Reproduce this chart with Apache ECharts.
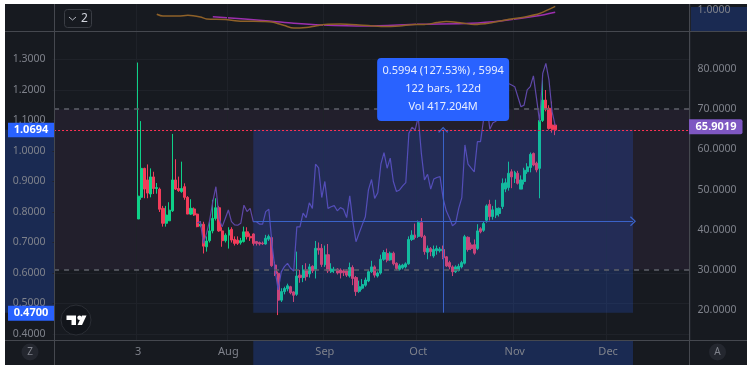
<!DOCTYPE html>
<html>
<head>
<meta charset="utf-8">
<style>
  html, body { margin: 0; padding: 0; background: #fff; }
  #main { width: 751px; height: 368px; }
</style>
<script src="https://cdn.jsdelivr.net/npm/echarts@6/dist/echarts.min.js"></script>
</head>
<body>
<div id="main"></div>
<script>
// date axis: one slot per day
var categories = [];
for (var t = Date.UTC(2022, 5, 6), n = 0; n < 205; n++, t += 86400000) {
  categories.push(new Date(t).toISOString().slice(5, 10));
}
var firstDay = categories[0], lastDay = categories[204];
var tickDays = ['07-03', '08-01', '09-01', '10-01', '11-01', '12-01'];
var tickLabels = ['3', 'Aug', 'Sep', 'Oct', 'Nov', 'Dec'];
var priceTicks = [0.4, 0.5, 0.6, 0.7, 0.8, 0.9, 1.0, 1.1, 1.2, 1.3];
var rsiTicks = [20, 30, 40, 50, 60, 70, 80];
var topTicks = [1];

// open, close, low, high from 07-03
var candleStart = 27;
var candles = [
  [.777,.852,.777,1.29],[.848,.943,.84,1.098],[.943,.875,.845,.945],[.905,.862,.845,.956],[.859,.915,.848,.943],
  [.915,.877,.859,.932],[.877,.880,.86,.895],[.875,.809,.80,.88],[.812,.763,.752,.82],[.763,.79,.752,.82],
  [.771,.806,.773,.832],[.804,.905,.80,1.056],[.905,.875,.872,.973],[.877,.87,.866,.916],[.867,.877,.863,.965],
  [.883,.848,.84,.894],[.848,.793,.793,.852],[.793,.812,.79,.842],[.81,.79,.787,.815],[.793,.752,.75,.795],
  [.754,.76,.75,.77],[.76,.688,.664,.768],[.686,.705,.67,.72],[.706,.738,.70,.77],[.738,.779,.73,.84],
  [.779,.814,.772,.845],[.814,.738,.735,.82],[.738,.706,.686,.75],[.706,.724,.70,.73],[.724,.741,.68,.75],
  [.743,.708,.70,.75],[.71,.697,.69,.72],[.708,.697,.692,.72],[.699,.706,.693,.715],[.703,.735,.70,.752],
  [.735,.719,.71,.75],[.72,.715,.705,.73],[.728,.697,.69,.73],[.703,.697,.69,.705],[.70,.695,.69,.703],
  [.698,.696,.692,.703],[.695,.714,.693,.725],[.711,.72,.705,.726],[.716,.624,.62,.72],[.626,.597,.59,.637],
  [.599,.511,.462,.605],[.511,.539,.505,.55],[.539,.549,.53,.555],[.548,.558,.54,.565],[.555,.535,.53,.558],
  [.538,.527,.505,.54],[.53,.59,.525,.67],[.593,.585,.568,.61],[.585,.61,.57,.626],[.61,.588,.575,.632],
  [.597,.62,.585,.63],[.622,.607,.60,.625],[.61,.681,.582,.705],[.681,.675,.66,.70],[.681,.628,.62,.695],
  [.627,.66,.62,.69],[.66,.607,.60,.695],[.604,.613,.60,.632],[.608,.612,.60,.62],[.613,.60,.595,.615],
  [.61,.60,.582,.615],[.607,.601,.59,.612],[.607,.593,.587,.612],[.59,.618,.585,.634],[.618,.582,.56,.625],
  [.585,.539,.525,.59],[.54,.555,.535,.575],[.55,.562,.545,.58],[.56,.577,.555,.585],[.574,.604,.57,.61],
  [.604,.62,.60,.64],[.62,.593,.585,.625],[.59,.60,.585,.605],[.60,.645,.595,.66],[.645,.667,.64,.675],
  [.664,.642,.635,.68],[.643,.665,.64,.67],[.665,.63,.625,.67],[.632,.615,.61,.635],[.612,.624,.608,.63],
  [.617,.626,.612,.63],[.62,.63,.615,.635],[.63,.71,.627,.72],[.71,.724,.705,.74],[.724,.717,.71,.762],
  [.72,.765,.715,.772],[.765,.72,.715,.78],[.72,.67,.66,.725],[.668,.681,.645,.69],[.68,.67,.655,.685],
  [.656,.677,.65,.69],[.673,.68,.66,.69],[.673,.678,.667,.685],[.677,.65,.645,.69],[.653,.623,.62,.655],
  [.634,.62,.612,.64],[.62,.604,.59,.625],[.604,.62,.60,.625],[.608,.622,.605,.63],[.62,.634,.615,.64],
  [.632,.719,.628,.725],[.717,.677,.67,.72],[.692,.68,.675,.70],[.693,.665,.66,.71],[.68,.738,.675,.76],
  [.745,.735,.73,.75],[.74,.762,.735,.77],[.773,.82,.765,.825],[.825,.785,.772,.84],[.785,.807,.775,.82],
  [.79,.812,.78,.84],[.795,.812,.785,.815],[.818,.894,.81,.91],[.875,.896,.865,.91],[.88,.927,.87,.965],
  [.932,.915,.878,.94],[.91,.93,.895,.935],[.927,.894,.89,.935],[.875,.905,.875,.92],[.90,.937,.89,.945],
  [.932,.948,.925,.96],[.946,.989,.93,.995],[.992,.954,.95,.995],[.96,.938,.93,.965],[.943,1.10,.845,1.11],
  [1.10,1.167,1.095,1.233],[1.167,1.137,1.13,1.20],[1.14,1.074,1.07,1.15],[1.085,1.07,1.06,1.162],[1.085,1.0694,1.052,1.09]
];

// RSI from 07-22
var rsiStart = 46;
var rsiValues = [
  41.7,42,36.6,39.1,42.4,47,50.7,42.8,40.7,42.8,44.9,42,41.2,41.1,41.6,46.1,44.5,45.3,42,42,
  41.4,41.4,44.5,45.1,36.6,30,25,29.5,30.8,31.6,30.4,29.7,40.7,40.7,44.1,43,46.7,45.3,56.3,55.4,
  48,52,45.3,45.7,46,44.7,45.5,45.1,43,48.4,42,37,39.1,41.2,43.2,49.9,52.5,47.8,49.2,56.3,
  59.2,55.3,57.8,52,49.5,49.9,50.9,51.7,64,65.5,64.8,68.1,59,52.4,53.8,50.1,52.6,53,53.2,47.8,
  44.7,43,41,41.6,45.3,48,61.1,56.3,55.3,54.4,61.9,61.9,67.5,71.5,65,66.6,67,74,79,78,
  76.4,76,75.6,73.1,70.6,71,74.8,75.6,78.3,72.7,66.9,78.9,81.4,77.3,69.4,65.9
];

// moving averages in the top pane, read at a few days only
var orangeDays = [33,35,40,43,47,49,55,59,67,70,74,77,81,84,87,92,98,106,111,116,119,123,126,131,135,140,145,152,156,160,161];
var orangeValues = [.98,.971,.971,.975,.967,.957,.955,.948,.945,.943,.926,.914,.917,.924,.931,.933,.929,.921,.924,.931,.931,.94,.945,.938,.931,.938,.952,.969,.983,1.01,1.017];
var purpleDays = [51,69,77,86,100,117,134,144,155,161];
var purpleValues = [.968,.948,.937,.929,.924,.932,.937,.949,.971,.989];

var lastPrice = 1.0694;
var lastRsi = 65.9019;
var lowPrice = 0.47;
var boxStart = 64, boxMid = 125, boxEnd = 186;
var boxLines = ['0.5994 (127.53%) , 5994', '122 bars, 122d', 'Vol 417.204M'];

var bg = '#171a20', gridColor = '#1f2229', sepColor = '#45484f', textColor = '#7f828b';
var navy = '#1a2a52', blue = '#2962ff', font = 'Noto Sans';
var chevron = 'path://M0 6L5 0L10 6L9 7L5 2L1 7Z';

var isTick = function (i, v) { return tickDays.indexOf(v) >= 0; };
function pairs(days, vals) {
  return days.map(function (d, i) { return [categories[d], vals[i]]; });
}
function fullLine(v) {
  return [{ xAxis: firstDay, yAxis: v }, { xAxis: lastDay, yAxis: v }];
}
function timeAxis(grid, showLabel) {
  return {
    type: 'category', gridIndex: grid, data: categories, position: grid == 2 ? 'top' : 'bottom', z: 3,
    axisLine: { show: false },
    axisTick: { show: false, alignWithLabel: true, interval: isTick },
    splitLine: { show: grid != 2, interval: isTick, lineStyle: { color: gridColor } },
    axisLabel: {
      show: showLabel, inside: true, margin: 6, interval: isTick, color: textColor,
      fontSize: 11, fontFamily: font,
      formatter: function (v) { return tickLabels[tickDays.indexOf(v)]; }
    }
  };
}
function valueAxis(opt, ticks, digits) {
  return Object.assign({
    type: 'value', scale: true,
    axisLine: { show: false }, axisTick: { show: false, customValues: ticks },
    splitLine: { show: false },
    axisLabel: {
      color: textColor, fontSize: 10.5, fontFamily: font, margin: 7, customValues: ticks,
      formatter: function (v) { return v.toFixed(digits); }
    }
  }, opt);
}

var myChart = echarts.init(document.getElementById('main'), null, { renderer: 'canvas' });
var option = {
  animation: false,
  backgroundColor: '#fff',
  grid: [
    { left: 52.5, right: 60.4, top: 4, height: 27 },
    { left: 52.5, right: 60.4, top: 31, height: 309 },
    { left: 52.5, right: 60.4, top: 340, height: 25 }
  ],
  xAxis: [timeAxis(0, false), timeAxis(1, false), timeAxis(2, true)],
  yAxis: [
    valueAxis({ gridIndex: 0, position: 'right', min: 0.9, max: 1.0286 }, topTicks, 4),
    (function () {
      var a = valueAxis({ gridIndex: 1, position: 'left', min: 0.3803, max: 1.3934 }, priceTicks, 4);
      a.splitLine = { show: true, lineStyle: { color: gridColor } };
      return a;
    })(),
    valueAxis({ gridIndex: 1, position: 'right', min: 12.54, max: 89.46 }, rsiTicks, 4),
    { type: 'value', gridIndex: 2, show: false, min: 0, max: 1 }
  ],
  series: [
    {
      name: 'purple ma', type: 'line', xAxisIndex: 0, yAxisIndex: 0, showSymbol: false, smooth: 0.3,
      data: pairs(purpleDays, purpleValues), lineStyle: { color: '#9c2fae', width: 1.5 }, z: 2
    },
    {
      name: 'orange ma', type: 'line', xAxisIndex: 0, yAxisIndex: 0, showSymbol: false, smooth: 0.3,
      data: pairs(orangeDays, orangeValues), lineStyle: { color: '#8f6128', width: 1.5 }, z: 3
    },
    {
      // rsi band 70 / 30
      name: 'band', type: 'line', xAxisIndex: 1, yAxisIndex: 2, data: [], silent: true,
      markArea: {
        silent: true, z: 1,
        itemStyle: { color: '#221f2c' },
        data: [[{ xAxis: firstDay, yAxis: 70 }, { xAxis: lastDay, yAxis: 30 }]]
      }
    },
    {
      name: 'price', type: 'candlestick', xAxisIndex: 1, yAxisIndex: 1, barWidth: 2.6, z: 2,
      encode: { x: 0, y: [1, 2, 3, 4] },
      data: candles.map(function (r, i) { return [categories[candleStart + i]].concat(r); }),
      itemStyle: {
        color: '#0ed088', color0: '#f23c5a', borderColor: '#0ed088', borderColor0: '#f23c5a', borderWidth: 1
      }
    },
    {
      name: 'rsi', type: 'line', xAxisIndex: 1, yAxisIndex: 2, showSymbol: false, z: 3,
      data: pairs(rsiValues.map(function (v, i) { return rsiStart + i; }), rsiValues),
      lineStyle: { color: '#5f48a8', width: 1.2 }
    },
    {
      name: 'levels', type: 'line', xAxisIndex: 1, yAxisIndex: 2, data: [], silent: true,
      markLine: {
        silent: true, symbol: 'none', z: 7, label: { show: false },
        lineStyle: { color: '#5f6169', type: [5, 5], width: 1.5 },
        data: [fullLine(70), fullLine(30)]
      }
    },
    {
      // date and price range box
      name: 'range', type: 'line', xAxisIndex: 1, yAxisIndex: 1, data: [], silent: true,
      markArea: {
        silent: true, z: 6,
        itemStyle: { color: 'rgba(41,98,255,0.2)' },
        data: [[
          { xAxis: categories[boxStart], yAxis: lowPrice },
          { xAxis: categories[boxEnd], yAxis: lastPrice }
        ]]
      },
      markLine: {
        silent: true, z: 8, symbol: ['none', chevron], symbolSize: [10, 6], label: { show: false },
        lineStyle: { color: '#3a62c8', type: 'solid', width: 1 },
        data: [
          [{ xAxis: categories[boxStart], yAxis: (lowPrice + lastPrice) / 2 },
           { xAxis: categories[boxEnd], yAxis: (lowPrice + lastPrice) / 2 }],
          [{ xAxis: categories[boxMid], yAxis: lowPrice },
           { xAxis: categories[boxMid], yAxis: lastPrice }]
        ]
      }
    },
    {
      name: 'last', type: 'line', xAxisIndex: 1, yAxisIndex: 1, data: [], silent: true,
      markLine: {
        silent: true, symbol: 'none', z: 9, label: { show: false },
        lineStyle: { color: '#ff3355', type: [2, 2], width: 1 },
        data: [fullLine(lastPrice)]
      }
    },
    {
      name: 'time strip', type: 'line', xAxisIndex: 2, yAxisIndex: 3, data: [], silent: true,
      markArea: {
        silent: true, z: 1, itemStyle: { color: navy },
        data: [[{ xAxis: categories[boxStart] }, { xAxis: categories[boxEnd] }]]
      }
    }
  ]
};
myChart.setOption(option);

// chrome and tags around the panes, placed from the axes
function py(v) { return myChart.convertToPixel({ yAxisIndex: 1 }, v); }
function ry(v) { return myChart.convertToPixel({ yAxisIndex: 2 }, v); }
function px(c) { return myChart.convertToPixel({ xAxisIndex: 1 }, categories[c]); }
function rect(x, y, w, h, fill, z, r) {
  return { type: 'rect', silent: true, z: z, shape: { x: x, y: y, width: w, height: h, r: r || 0 }, style: { fill: fill } };
}
function line(x1, y1, x2, y2) {
  return { type: 'line', silent: true, z: 50, shape: { x1: x1, y1: y1, x2: x2, y2: y2 }, style: { stroke: sepColor, lineWidth: 1 } };
}
function text(x, y, s, fill, size, weight) {
  return {
    type: 'text', silent: true, z: 60, x: x, y: y,
    style: { text: s, fill: fill, font: (weight || 'normal') + ' ' + size + 'px "' + font + '"', align: 'center', verticalAlign: 'middle' }
  };
}
function circle(x, y, r, fill, stroke) {
  return { type: 'circle', silent: true, z: 55, shape: { cx: x, cy: y, r: r }, style: { fill: fill, stroke: stroke || null } };
}
function poly(points) {
  return { type: 'polygon', silent: true, z: 56, shape: { points: points }, style: { fill: '#fff' } };
}

var tipX = px(boxMid), yLast = py(lastPrice), yLow = py(lowPrice), yRsi = ry(lastRsi);
myChart.setOption({
  graphic: [
    rect(5, 4, 742, 361, bg, -10),
    rect(5, yLast, 49, yLow - yLast, navy, -5),
    rect(689, 7, 58, 24, navy, -5),
    line(54.5, 4, 54.5, 365), line(689.5, 4, 689.5, 365),
    line(5, 31.5, 747, 31.5), line(5, 340.5, 747, 340.5),

    // "2" button of the collapsed pane
    { type: 'rect', silent: true, z: 55, shape: { x: 64.5, y: 9.5, width: 27, height: 18, r: 3 }, style: { fill: bg, stroke: '#3a3d44' } },
    { type: 'polyline', silent: true, z: 56, shape: { points: [[69, 17], [72.5, 20], [76, 17]] }, style: { stroke: '#b2b5be', fill: null, lineWidth: 1 } },
    text(84.5, 18.5, '2', '#d1d4dc', 12),

    // price tags
    rect(8, yLast - 7, 46, 14.5, blue, 58),
    text(31, yLast, lastPrice.toFixed(4), '#fff', 11, 'bold'),
    rect(8, yLow - 7, 46, 15, blue, 58),
    text(31, yLow, lowPrice.toFixed(4), '#fff', 11, 'bold'),
    { type: 'rect', silent: true, z: 58, shape: { x: 689, y: yRsi - 6.5, width: 53.5, height: 15, r: [0, 2, 2, 0] }, style: { fill: '#7e57c2' } },
    text(716, yRsi + 1, lastRsi.toFixed(4), '#fff', 11, 'bold'),

    // range tooltip
    rect(tipX - 66, 58, 132, 63, blue, 58, 4),
    text(tipX, 71, boxLines[0], '#e8eeff', 11),
    text(tipX, 89, boxLines[1], '#e8eeff', 11),
    text(tipX, 107, boxLines[2], '#e8eeff', 11),

    // logo and the two axis buttons
    circle(76, 320, 15, '#12151b', '#2b2e35'),
    poly([[66.5, 315.5], [76, 315.5], [76, 325], [71.5, 325], [71.5, 320], [66.5, 320]]),
    circle(79.5, 317.7, 2.2, '#fff'),
    poly([[82, 315.5], [86.5, 315.5], [82, 325], [77.5, 325]]),
    circle(30, 352, 8.5, '#24272f'),
    text(30, 352, 'Z', '#7f828b', 10),
    circle(717.5, 352, 8.5, '#24272f'),
    text(717.5, 352, 'A', '#7f828b', 10)
  ]
});
window.addEventListener('resize', function () { myChart.resize(); });
</script>
</body>
</html>
